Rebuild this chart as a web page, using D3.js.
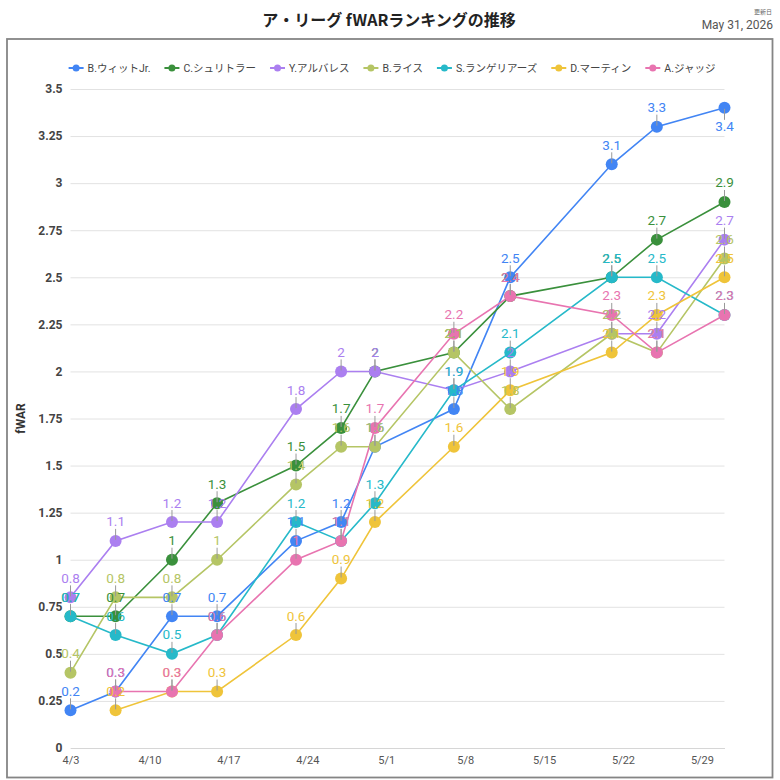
<!DOCTYPE html>
<html><head><meta charset="utf-8">
<script src="https://cdn.jsdelivr.net/npm/d3@7/dist/d3.min.js"></script>
<style>
body{margin:0;background:#fff;}
text{font-family:Roboto,"Noto Sans CJK JP",sans-serif;}
</style>
</head><body>
<svg id="chart" width="780" height="780"></svg>
<script>
// ---- data ----
const dates = ["2026-04-03","2026-04-07","2026-04-12","2026-04-16","2026-04-23","2026-04-27","2026-04-30","2026-05-07","2026-05-12","2026-05-21","2026-05-25","2026-05-31"];
const seriesNames = ["B.ウィットJr.","C.シュリトラー","Y.アルバレス","B.ライス","S.ランゲリアーズ","D.マーティン","A.ジャッジ"];
const seriesColors = ["#4285f4","#3a903c","#ab7ff0","#b5c565","#26b9c9","#efc43a","#e874b0"];
const witt       = [0.2,0.3,0.7,0.7,1.1,1.2,1.6,1.8,2.5,3.1,3.3,3.4];
const schlittler = [0.7,0.7,1.0,1.3,1.5,1.7,2.0,2.1,2.4,2.5,2.7,2.9];
const alvarez    = [0.8,1.1,1.2,1.2,1.8,2.0,2.0,1.9,2.0,2.2,2.2,2.7];
const rice       = [0.4,0.8,0.8,1.0,1.4,1.6,1.6,2.1,1.8,2.2,2.1,2.6];
const langeliers = [0.7,0.6,0.5,0.6,1.2,1.1,1.3,1.9,2.1,2.5,2.5,2.3];
const martin     = [null,0.2,0.3,0.3,0.6,0.9,1.2,1.6,1.9,2.1,2.3,2.5];
const judge      = [null,0.3,0.3,0.6,1.0,1.1,1.7,2.2,2.4,2.3,2.1,2.3];
const seriesValues = [witt,schlittler,alvarez,rice,langeliers,martin,judge];
const xTickLabels = ["4/3","4/10","4/17","4/24","5/1","5/8","5/15","5/22","5/29"];
const yTicks = [0,0.25,0.5,0.75,1,1.25,1.5,1.75,2,2.25,2.5,2.75,3,3.25,3.5];
const titleText = "ア・リーグ fWARランキングの推移";
const yTitle = "fWAR";
const updatedLabel = "更新日";
const updatedDate = "May 31, 2026";

// ---- chart ----
const svg = d3.select("#chart");
const parse = d3.timeParse("%Y-%m-%d");
const dateObjs = dates.map(parse);
const tickDates = xTickLabels.map(s => { const [m,d] = s.split("/"); return new Date(2026, +m-1, +d); });

const plot = {left:70.5, right:724.5, top:89, bottom:748};
const x = d3.scaleTime().domain(d3.extent(dateObjs)).range([plot.left, plot.right]);
const y = d3.scaleLinear().domain([0,3.5]).range([plot.bottom, plot.top]);

// frame
svg.append("rect").attr("x",7).attr("y",39).attr("width",765.5).attr("height",738.5)
  .attr("fill","none").attr("stroke","#858585").attr("stroke-width",1.8);

// title
svg.append("text").attr("x",389).attr("y",26).attr("text-anchor","middle")
  .style("font-family","'Noto Sans CJK JP',sans-serif").style("font-weight","bold")
  .style("font-size","16px").attr("fill","#222").text(titleText);
svg.append("text").attr("x",772).attr("y",14).attr("text-anchor","end")
  .style("font-family","'Noto Sans CJK JP',sans-serif").style("font-size","6px").attr("fill","#666").text(updatedLabel);
svg.append("text").attr("x",773).attr("y",29).attr("text-anchor","end")
  .style("font-size","12px").attr("fill","#555").text(updatedDate);

// grid + y axis
const yAxis = d3.axisLeft(y).tickValues(yTicks).tickFormat(d => String(d))
  .tickSize(-(plot.right - plot.left)).tickPadding(8);
const gy = svg.append("g").attr("transform",`translate(${plot.left},0)`).call(yAxis);
gy.select(".domain").remove();
gy.selectAll(".tick line").attr("stroke","#e2e2e2").attr("stroke-width",1);
gy.selectAll(".tick text").style("font-size","12px").style("font-weight","bold").attr("fill","#444");

// x axis
const xAxis = d3.axisBottom(x).tickValues(tickDates).tickFormat((d,i) => xTickLabels[i]).tickSize(0).tickPadding(8);
const gx = svg.append("g").attr("transform",`translate(0,${plot.bottom})`).call(xAxis);
gx.select(".domain").attr("stroke","#d6d6d6");
gx.selectAll(".tick text").style("font-size","11px").attr("fill","#555");

// y title
svg.append("text").attr("transform",`translate(25,${(plot.top+plot.bottom)/2}) rotate(-90)`)
  .attr("text-anchor","middle").style("font-size","12px").style("font-weight","bold")
  .attr("fill","#333").text(yTitle);

// lines
const line = d3.line().defined(d => d.v != null).x(d => x(d.date)).y(d => y(d.v));
const seriesData = seriesNames.map((name,i) => ({
  name, color: seriesColors[i],
  pts: dateObjs.map((date,j) => ({date, v: seriesValues[i][j]}))
}));
const lines = svg.append("g");
seriesData.forEach(s => {
  lines.append("path").datum(s.pts).attr("d", line).attr("fill","none")
    .attr("stroke", s.color).attr("stroke-width",1.6);
});
const pts = svg.append("g");
seriesData.forEach(s => {
  pts.selectAll(null).data(s.pts.filter(d => d.v != null)).join("circle")
    .attr("cx", d => x(d.date)).attr("cy", d => y(d.v)).attr("r",6).attr("fill", s.color);
});
// annotations
const ann = svg.append("g");
seriesData.forEach(s => {
  s.pts.filter(d => d.v != null).forEach(d => {
    const px = x(d.date), py = y(d.v);
    const below = (py - 24) < plot.top;
    if (below) {
      ann.append("line").attr("x1",px).attr("x2",px).attr("y1",py+1).attr("y2",py+12)
        .attr("stroke","#999").attr("stroke-width",1);
      ann.append("text").attr("x",px).attr("y",py+23).attr("text-anchor","middle")
        .style("font-size","13.5px").attr("fill",s.color).text(String(d.v));
    } else {
      ann.append("line").attr("x1",px).attr("x2",px).attr("y1",py-1).attr("y2",py-12)
        .attr("stroke","#999").attr("stroke-width",1);
      ann.append("text").attr("x",px).attr("y",py-14.5).attr("text-anchor","middle")
        .style("font-size","13.5px").attr("fill",s.color).text(String(d.v));
    }
  });
});

// legend
const leg = svg.append("g").attr("transform","translate(0,68)");
const items = [];
seriesData.forEach(s => {
  const g = leg.append("g");
  g.append("line").attr("x1",0).attr("x2",15).attr("y1",0).attr("y2",0).attr("stroke",s.color).attr("stroke-width",2);
  g.append("circle").attr("cx",7.5).attr("cy",0).attr("r",3.5).attr("fill",s.color);
  const t = g.append("text").attr("x",19).attr("y",4).style("font-size","10.5px").attr("fill","#444").text(s.name);
  const w = 19 + t.node().getComputedTextLength();
  items.push({g, w});
});
const gap = 14;
const total = d3.sum(items, d => d.w) + gap*(items.length-1);
let start = 392 - total/2;
items.forEach(it => { it.g.attr("transform",`translate(${start},0)`); start += it.w + gap; });
</script>
</body></html>
